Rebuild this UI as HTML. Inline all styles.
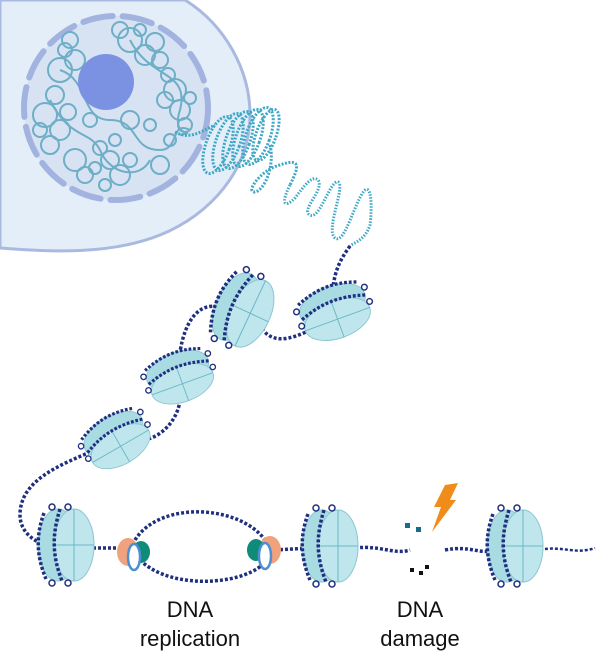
<!DOCTYPE html>
<html><head><meta charset="utf-8"><style>
html,body{margin:0;padding:0;background:#fff;}
svg{display:block;}
text{font-family:"Liberation Sans",sans-serif;fill:#111;}
</style></head><body>
<svg width="600" height="667" viewBox="0 0 600 667" xmlns="http://www.w3.org/2000/svg">
<defs>
<g id="nuc">
  <ellipse cx="-8" cy="0" rx="20" ry="36" fill="#a9dbe3" stroke="#8cc6d2" stroke-width="1"/>
  <ellipse cx="8" cy="0" rx="20" ry="36" fill="#bfe6ec" stroke="#8cc6d2" stroke-width="1"/>
  <line x1="-12" y1="0" x2="28" y2="0" stroke="#6bb8c6" stroke-width="1"/>
  <line x1="8" y1="-36" x2="8" y2="36" stroke="#6bb8c6" stroke-width="1"/>
  <path d="M-22,-32 C-30,-10 -30,10 -20,34" fill="none" stroke="#1f2f80" stroke-width="3.5" stroke-dasharray="3 2"/>
  <path d="M-6,-36 C-14,-10 -14,10 -4,36" fill="none" stroke="#1f2f80" stroke-width="3.5" stroke-dasharray="3 2"/>
  <circle cx="-14" cy="-38" r="3" fill="none" stroke="#1f2f80" stroke-width="1.5"/>
  <circle cx="2" cy="-38" r="3" fill="none" stroke="#1f2f80" stroke-width="1.5"/>
  <circle cx="-14" cy="38" r="3" fill="none" stroke="#1f2f80" stroke-width="1.5"/>
  <circle cx="2" cy="38" r="3" fill="none" stroke="#1f2f80" stroke-width="1.5"/>
</g>
</defs>
<path d="M0,0 L185,0 C225,25 250,70 250,115 C250,170 210,215 160,235 C110,255 50,252 0,248 Z" fill="#e4eef8" stroke="#aab9e0" stroke-width="3"/>
<circle cx="116" cy="108" r="92" fill="#d7e3f3" stroke="#a2b3e0" stroke-width="6" stroke-dasharray="30 10" stroke-linecap="round"/>
<g fill="none" stroke="#6eaec6" stroke-width="2">
  <circle cx="60" cy="70" r="12"/><circle cx="75" cy="60" r="10"/><circle cx="55" cy="95" r="9"/><circle cx="45" cy="115" r="12"/>
  <circle cx="60" cy="130" r="10"/><circle cx="50" cy="145" r="9"/><circle cx="75" cy="160" r="11"/><circle cx="85" cy="175" r="8"/>
  <circle cx="130" cy="40" r="12"/><circle cx="145" cy="55" r="10"/><circle cx="120" cy="30" r="8"/><circle cx="155" cy="42" r="9"/>
  <circle cx="175" cy="90" r="11"/><circle cx="180" cy="110" r="10"/><circle cx="165" cy="100" r="8"/><circle cx="185" cy="125" r="7"/>
  <circle cx="110" cy="160" r="9"/><circle cx="120" cy="175" r="10"/><circle cx="100" cy="148" r="7"/><circle cx="160" cy="165" r="9"/>
  <circle cx="90" cy="120" r="7"/><circle cx="130" cy="120" r="9"/><circle cx="70" cy="40" r="8"/><circle cx="160" cy="60" r="8"/>
  <circle cx="65" cy="50" r="7"/><circle cx="40" cy="130" r="7"/><circle cx="68" cy="112" r="8"/><circle cx="140" cy="30" r="6"/>
  <circle cx="168" cy="75" r="7"/><circle cx="190" cy="98" r="6"/><circle cx="105" cy="185" r="6"/><circle cx="130" cy="160" r="7"/>
  <circle cx="95" cy="168" r="6"/><circle cx="170" cy="140" r="6"/><circle cx="150" cy="125" r="6"/><circle cx="115" cy="140" r="6"/>
  <path d="M60,70 C90,80 80,120 110,120 C140,120 130,150 160,150 C180,150 170,120 190,130"/>
  <path d="M130,40 C150,80 190,70 180,110 C170,140 200,130 180,135"/>
  <path d="M50,100 C70,140 90,130 100,150 C110,175 140,180 150,160"/>
</g>
<circle cx="106" cy="82" r="28" fill="#7b92e2"/>
<g fill="none" stroke="#3fa8c6" stroke-width="3" stroke-dasharray="2 1.5">
  <path d="M175,132 C190,140 200,132 215,125"/>
  <ellipse cx="218" cy="145" rx="12" ry="30" transform="rotate(20 218 145)"/>
  <ellipse cx="228" cy="142" rx="12" ry="30" transform="rotate(20 228 142)"/>
  <ellipse cx="238" cy="140" rx="12" ry="30" transform="rotate(20 238 140)"/>
  <ellipse cx="248" cy="138" rx="12" ry="30" transform="rotate(20 248 138)"/>
  <ellipse cx="258" cy="136" rx="12" ry="30" transform="rotate(20 258 136)"/>
  <ellipse cx="266" cy="135" rx="10" ry="27" transform="rotate(20 266 135)"/>
  <path d="M270,145 C275,165 265,190 255,192 C245,193 260,170 280,165 C300,158 300,165 290,185"/>
</g>
<path d="M290,185 C280,205 285,208 295,198 C305,185 312,175 318,180 C325,190 300,210 310,215 C320,220 330,180 338,182 C346,186 325,230 335,238 C345,245 355,200 365,190 C372,185 372,210 370,225 C365,240 355,242 350,246" fill="none" stroke="#3fa8c6" stroke-width="3" stroke-dasharray="1.5 1.5"/>
<g fill="none" stroke="#1f2f80" stroke-width="3.5" stroke-dasharray="3 2">
  <path d="M350,246 C340,260 335,270 333,288"/>
  <path d="M310,330 C290,340 270,345 260,325"/>
  <path d="M222,308 C200,300 185,320 180,352"/>
  <path d="M180,400 C178,420 160,440 140,440"/>
  <path d="M95,450 C60,465 20,480 20,515 C20,535 40,545 50,545"/>
  <path d="M88,548 L125,548"/>
  <path d="M135,540 C160,500 240,505 265,540"/>
  <path d="M140,560 C170,590 240,585 262,565"/>
  <path d="M275,550 L310,548"/>
  <path d="M355,548 C380,545 395,555 410,550"/>
  <path d="M445,550 C470,545 480,555 495,550"/>
  <path d="M540,550 C560,545 575,555 595,548" stroke-width="2.5"/>
</g>
<use href="#nuc" transform="translate(243,310) rotate(25)"/>
<use href="#nuc" transform="translate(335,312) rotate(70) scale(0.95)"/>
<use href="#nuc" transform="translate(180,377) rotate(70) scale(0.9)"/>
<use href="#nuc" transform="translate(117,440) rotate(60) scale(0.9)"/>
<use href="#nuc" transform="translate(66,545)"/>
<use href="#nuc" transform="translate(330,546)"/>
<use href="#nuc" transform="translate(515,546)"/>
<ellipse cx="128" cy="552" rx="11" ry="14" fill="#f0a27e"/>
<ellipse cx="141" cy="552" rx="9" ry="11" fill="#0f8b7a"/>
<ellipse cx="134" cy="557" rx="6" ry="13" fill="#fff" stroke="#4e8fd0" stroke-width="2.5"/>
<ellipse cx="270" cy="550" rx="11" ry="14" fill="#f0a27e"/>
<ellipse cx="256" cy="550" rx="9" ry="11" fill="#0f8b7a"/>
<ellipse cx="265" cy="556" rx="6" ry="13" fill="#fff" stroke="#4e8fd0" stroke-width="2.5"/>
<path d="M445,485 L458,483 L450,500 L456,500 L432,532 L441,507 L434,507 Z" fill="#f08d1a"/>
<rect x="405" y="523" width="5" height="5" fill="#1a6a8c"/>
<rect x="416" y="527" width="5" height="5" fill="#1a6a8c"/>
<rect x="410" y="568" width="4" height="4" fill="#111"/>
<rect x="419" y="571" width="4" height="4" fill="#111"/>
<rect x="425" y="565" width="4" height="4" fill="#111"/>
<text x="190" y="617" font-size="22" text-anchor="middle">DNA</text>
<text x="190" y="646" font-size="22" text-anchor="middle">replication</text>
<text x="420" y="617" font-size="22" text-anchor="middle">DNA</text>
<text x="420" y="646" font-size="22" text-anchor="middle">damage</text>
</svg>
</body></html>
